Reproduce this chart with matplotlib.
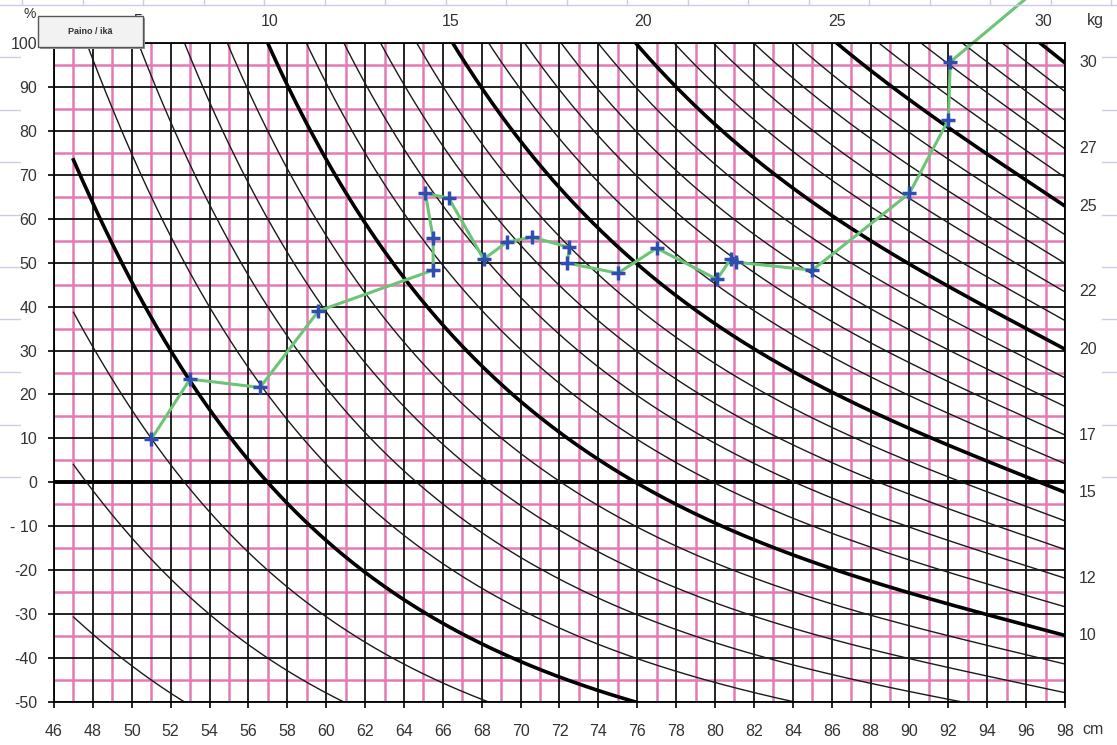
import numpy as np
import matplotlib
matplotlib.use("Agg")
import matplotlib.pyplot as plt
from matplotlib.patches import Rectangle
from matplotlib.lines import Line2D
import matplotlib.transforms as mtransforms

plt.rcParams['font.family'] = ['Liberation Sans', 'DejaVu Sans']

ref_height = [47, 48, 50, 52, 54, 56, 57, 60, 62, 64, 66, 68, 70, 72, 74, 76,
              78, 80, 82, 84, 86, 88, 90, 92, 94, 96, 98]
ref_weight = [2.85, 3.05, 3.45, 3.9, 4.35, 4.75, 5.0, 5.7, 6.2, 6.7, 7.45, 7.95,
              8.5, 9.05, 9.55, 10.0, 10.5, 11.0, 11.45, 11.95, 12.45, 12.9,
              13.35, 13.85, 14.35, 14.85, 15.3]

# weight curves (kg), thick ones every 5 kg
curve_kg = list(range(2, 31))
thick_kg = [5, 10, 15, 20, 25, 30]

# labels along the top and right side
top_kg = [5, 10, 15, 20, 25, 30]
top_kg_cm = [50.3, 57.1, 66.4, 76.3, 86.3, 96.9]
right_kg = [30, 27, 25, 22, 20, 17, 15, 12, 10]

# child's measurements: height (cm) and weight deviation (%)
child_cm = [51.0, 53.0, 56.6, 59.6, 65.5, 65.5, 65.1, 66.3, 68.1, 69.3, 70.6,
            72.5, 72.4, 75.0, 77.0, 80.1, 80.8, 81.1, 85.0, 90.0, 92.0, 92.1]
child_pct = [9.8, 23.5, 21.6, 39.0, 48.3, 55.6, 65.8, 64.7, 50.8, 54.7, 55.8,
             53.5, 49.9, 47.6, 53.3, 46.2, 50.8, 50.1, 48.3, 65.8, 82.5, 95.7]
# the line runs on past the top of the chart
tail_cm = [92.1, 96.5]
tail_pct = [95.7, 112.0]

W, H = 1117, 745
fig = plt.figure(figsize=(W / 100, H / 100), dpi=100)
ax = fig.add_axes([54 / W, 1 - 702 / H, (1065 - 54) / W, (702 - 43) / H])
ax.set_xlim(46, 98)
ax.set_ylim(-50, 100)

pink = '#e47ab4'
# pink grid at odd cm / every 5 %
for x in range(47, 98, 2):
    ax.axvline(x, color=pink, lw=1.8, zorder=1)
for y in range(-45, 100, 10):
    ax.axhline(y, color=pink, lw=1.8, zorder=1)
# black grid at even cm / every 10 %
for x in range(46, 99, 2):
    ax.axvline(x, color='#111111', lw=1.3, zorder=2)
for y in range(-50, 101, 10):
    ax.axhline(y, color='#111111', lw=1.3, zorder=2)
ax.axhline(0, color='black', lw=2.8, zorder=3)

# smooth median curve through the read-off points
fit = np.polyfit(ref_height, ref_weight, 5)
h = np.linspace(47, 98, 600)
med = np.polyval(fit, h)
for kg in curve_kg:
    pct = (kg / med - 1) * 100
    if kg in thick_kg:
        ax.plot(h, pct, color='black', lw=2.6, zorder=4)
    else:
        ax.plot(h, pct, color='#1a1a1a', lw=1.0, zorder=4)

ax.plot(tail_cm, tail_pct, color='#6cc477', lw=2.2, zorder=5, clip_on=False)
ax.plot(child_cm, child_pct, color='#6cc477', lw=2.2, zorder=5)
ax.plot(child_cm, child_pct, ls='none', marker='+', ms=10, mew=2.5,
        color='#2f4fb0', zorder=6)

for s in ax.spines.values():
    s.set_color('black')
    s.set_linewidth(1.3)
    s.set_zorder(7)

ax.set_xticks(range(46, 99, 2))
ax.set_yticks(range(-50, 101, 10))
ax.set_yticklabels(['- 10' if v == -10 else str(v) for v in range(-50, 101, 10)])
ax.tick_params(axis='both', length=4, width=1.2, color='black',
               labelsize=11.5, labelcolor='#333333')
ax.tick_params(axis='x', pad=12)
ax.tick_params(axis='y', pad=8)

# top kg labels
top_tr = mtransforms.blended_transform_factory(ax.transData, fig.transFigure)
for kg, cm in zip(top_kg, top_kg_cm):
    ax.text(cm, 1 - 21 / H, str(kg), transform=top_tr, ha='center', va='center',
            fontsize=11.5, color='#333333')
fig.text(1095 / W, 1 - 21 / H, 'kg', ha='center', va='center',
         fontsize=11.5, color='#333333')
fig.text(30 / W, 1 - 14 / H, '%', ha='center', va='center',
         fontsize=10, color='#333333')
fig.text(1093 / W, 1 - 730 / H, 'cm', ha='center', va='center',
         fontsize=11.5, color='#333333')

# right kg labels at the curve ends
right_tr = mtransforms.blended_transform_factory(fig.transFigure, ax.transData)
end_med = np.polyval(fit, 98)
for kg in right_kg:
    ax.text(1088 / W, (kg / end_med - 1) * 100, str(kg), transform=right_tr,
            ha='center', va='center', fontsize=11.5, color='#333333')

# sheet button
fig.patches.append(Rectangle((40 / W, 1 - 49 / H), 105 / W, 31 / H,
                             transform=fig.transFigure, facecolor='#9a9a9a',
                             edgecolor='none', zorder=10))
fig.patches.append(Rectangle((38 / W, 1 - 47 / H), 105 / W, 31 / H,
                             transform=fig.transFigure, facecolor='#f2f2f2',
                             edgecolor='#555555', lw=1.0, zorder=11))
fig.text(90 / W, 1 - 32 / H, 'Paino / ikä', ha='center', va='center',
         fontsize=6.5, fontweight='bold', color='#333333', zorder=12)

# faint spreadsheet cell borders around the chart
cell = '#d2cae6'
fig.add_artist(Line2D([0, 1], [1 - 5 / H, 1 - 5 / H], color=cell, lw=1.0))
for x in np.arange(22, W, 60.5):
    fig.add_artist(Line2D([x / W, x / W], [1, 1 - 5 / H], color=cell, lw=1.0))
for y in np.arange(57, 480, 52.5):
    fig.add_artist(Line2D([0, 20 / W], [1 - y / H, 1 - y / H], color=cell, lw=1.0))
    fig.add_artist(Line2D([1102 / W, 1], [1 - y / H, 1 - y / H], color=cell, lw=1.0))

fig.savefig('out.png', dpi=100)
